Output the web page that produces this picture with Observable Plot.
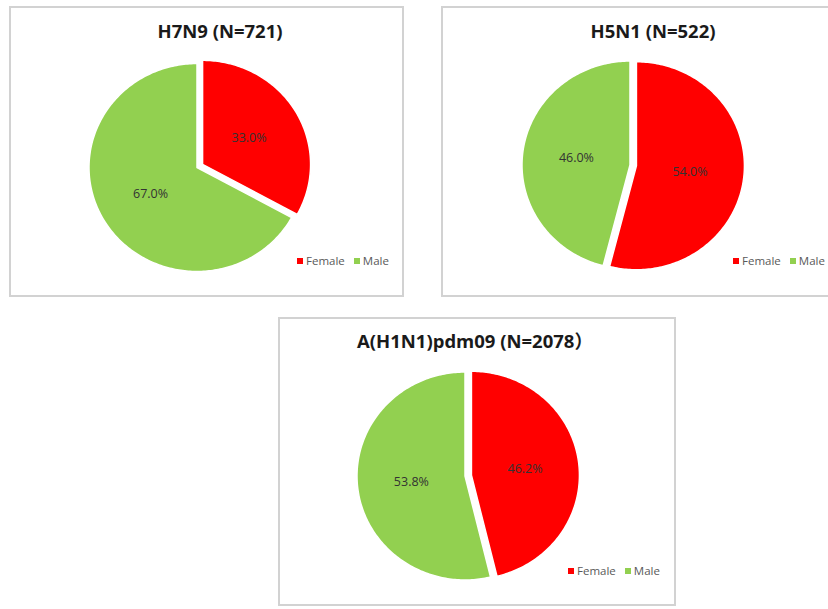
<!DOCTYPE html>
<html>
<head>
<meta charset="utf-8">
<script src="https://cdn.jsdelivr.net/npm/d3@7"></script>
<script src="https://cdn.jsdelivr.net/npm/@observablehq/plot@0.6"></script>
<style>
  body { margin: 0; background: #fff; font-family: "Open Sans", "Liberation Sans", sans-serif; }
  #page { position: relative; width: 828px; height: 609px; overflow: hidden; background: #fff; }
  .panel { position: absolute; }
  .frame { position: absolute; left: 0; top: 0; right: 0; bottom: 0; border: 2px solid #d2d2d2; box-sizing: border-box; }
  .panel svg { position: absolute; left: 0; top: 0; }
  .title { position: absolute; transform: translateX(-50%); font-family: "Open Sans", sans-serif; font-weight: 700; font-size: 18.5px; line-height: 20px; white-space: nowrap; color: #1a1a1a; }
  .title .cjk { font-family: "Noto Sans CJK SC", sans-serif; }
  .legend { position: absolute; display: flex; align-items: center; font-size: 11.5px; line-height: 12px; color: #595959; white-space: nowrap; }
  .legend .item { display: flex; align-items: center; margin-right: 9px; }
  .legend .sw { display: inline-block; width: 6px; height: 6px; margin-right: 3px; }
</style>
</head>
<body>
<div id="page"></div>
<script>
// Sex distribution of cases, percent, per influenza subtype
const titles = ["H7N9 (N=721)", "H5N1 (N=522)", "A(H1N1)pdm09 (N=2078）"];
const sexes = ["Female", "Male"];
const femalePct = [33.0, 54.0, 46.2];
const malePct = [67.0, 46.0, 53.8];

const colors = ["#ff0000", "#92d050"];

// Panel placement on the page (pixels) and pie geometry inside each panel
const layout = [
  { left: 9,   top: 6,   w: 395, h: 291, cx: 187.5, cy: 161,   titleX: 211, titleY: 15, legendX: 288, legendY: 249 },
  { left: 441, top: 6,   w: 395, h: 291, cx: 188.5, cy: 158.5, titleX: 212, titleY: 15, legendX: 292, legendY: 249 },
  { left: 278, top: 317, w: 398, h: 289, cx: 186.5, cy: 158.5, titleX: 197, titleY: 13, legendX: 290, legendY: 248 }
];
const rx = 108, ry = 104;       // pie radii in pixels (x, y)
const explode = 0.06;           // outward offset of the Female slice, in radius units
const labelRadius = 0.5;        // label distance from slice apex, in radius units

const page = document.getElementById("page");

titles.forEach((title, i) => {
  const L = layout[i];
  const values = [femalePct[i], malePct[i]];
  const total = d3.sum(values);

  // Build slice outlines (angles measured clockwise from 12 o'clock, y pointing up)
  const outline = [];
  const labels = [];
  let start = 0;
  values.forEach((v, k) => {
    const a0 = start, a1 = start + (v / total) * 2 * Math.PI;
    start = a1;
    const mid = (a0 + a1) / 2;
    const off = k === 0 ? explode : 0;
    const ox = off * Math.sin(mid), oy = off * Math.cos(mid);
    outline.push({ sex: sexes[k], x: ox, y: oy });
    const n = Math.max(2, Math.ceil((a1 - a0) / (Math.PI / 180)));
    for (let j = 0; j <= n; ++j) {
      const a = a0 + (a1 - a0) * j / n;
      outline.push({ sex: sexes[k], x: ox + Math.sin(a), y: oy + Math.cos(a) });
    }
    labels.push({ sex: sexes[k], value: v, x: ox + labelRadius * Math.sin(mid), y: oy + labelRadius * Math.cos(mid) });
  });

  const panel = document.createElement("div");
  panel.className = "panel";
  Object.assign(panel.style, { left: L.left + "px", top: L.top + "px", width: L.w + "px", height: L.h + "px" });

  const frame = document.createElement("div");
  frame.className = "frame";
  panel.appendChild(frame);

  const chart = Plot.plot({
    width: L.w,
    height: L.h,
    margin: 0,
    style: { background: "transparent", fontFamily: "'Open Sans', sans-serif" },
    x: { domain: [-L.cx / rx, (L.w - L.cx) / rx], axis: null },
    y: { domain: [-(L.h - L.cy) / ry, L.cy / ry], axis: null },
    color: { domain: sexes, range: colors },
    marks: [
      Plot.line(outline, {
        x: "x", y: "y", z: "sex", fill: "sex",
        stroke: "white", strokeWidth: 1.5, curve: "linear-closed"
      }),
      Plot.text(labels, {
        x: "x", y: "y",
        text: d => d.value.toFixed(1) + "%",
        fill: "#333333", fontSize: 12.5
      })
    ]
  });
  panel.appendChild(chart);

  // Title; full-width punctuation is set in the CJK face
  const t = document.createElement("div");
  t.className = "title";
  for (const part of title.split(/([\uFF00-\uFFEF]+)/)) {
    if (!part) continue;
    if (/[\uFF00-\uFFEF]/.test(part)) {
      const s = document.createElement("span");
      s.className = "cjk";
      s.textContent = part;
      t.appendChild(s);
    } else {
      t.appendChild(document.createTextNode(part));
    }
  }
  Object.assign(t.style, { left: L.titleX + "px", top: L.titleY + "px" });
  panel.appendChild(t);

  const lg = document.createElement("div");
  lg.className = "legend";
  Object.assign(lg.style, { left: L.legendX + "px", top: L.legendY + "px" });
  sexes.forEach((s, k) => {
    const item = document.createElement("span");
    item.className = "item";
    const sw = document.createElement("span");
    sw.className = "sw";
    sw.style.background = colors[k];
    item.appendChild(sw);
    item.appendChild(document.createTextNode(s));
    lg.appendChild(item);
  });
  panel.appendChild(lg);

  page.appendChild(panel);
});
</script>
</body>
</html>
